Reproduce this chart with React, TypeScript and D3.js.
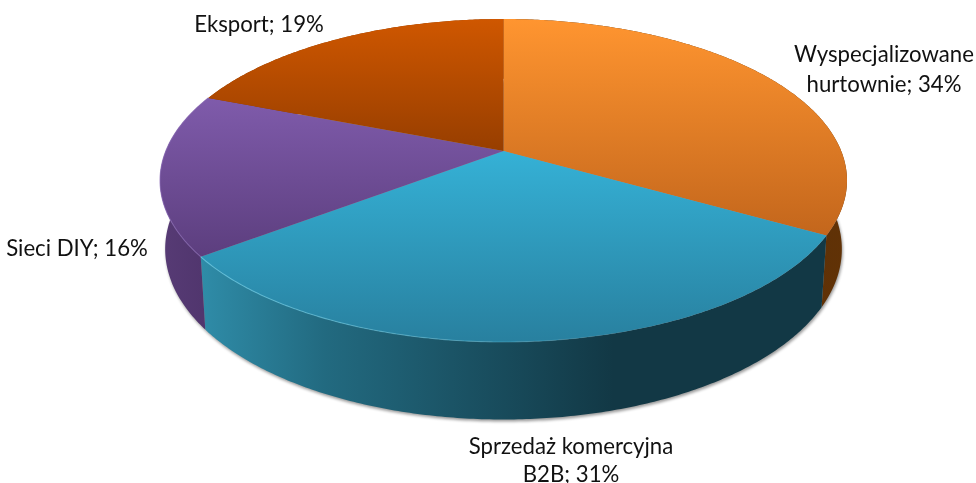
import React from 'react';
import * as d3 from 'd3';

const categories = ['Wyspecjalizowane hurtownie', 'Sprzedaż komercyjna B2B', 'Sieci DIY', 'Eksport'];
const values = [33.2, 31.5, 16.2, 19.1];
const labelLines = [
  ['Wyspecjalizowane', 'hurtownie; 34%'],
  ['Sprzedaż komercyjna', 'B2B; 31%'],
  ['Sieci DIY; 16%'],
  ['Eksport; 19%'],
];
const topColors = [
  ['#ff9530', '#c3661c'],
  ['#35b1d6', '#28809f'],
  ['#7f5bab', '#5c3e7e'],
  ['#cf5700', '#973e00'],
];
const wallColors = [
  ['#4a2a0c', '#613206'],
  ['#2f8ca8', '#123845'],
  ['#573b75', '#50356d'],
  ['#8a3a00', '#8a3a00'],
];
const edgeColors = ['#6fd0ea', '#8a6ab5'];

const width = 976;
const height = 483;
const cx = 503.5;
const cy = 151;
const tilt = 0.1827; // perspective of the disc
const radiusX = 337.7;
const radiusY = 156.1;
const depth = 67;
const bottomScaleX = 0.985;
const bottomScaleY = 1.055;

const labelX = [884, 571, 77, 259];
const labelY = [62, 454, 256, 31.5];
const lineGaps = [29.5, 27.5, 0, 0];
const fontSize = 22.2;

const project = (angle: number, bottom = false): [number, number] => {
  const u = Math.sin(angle);
  const v = Math.cos(angle);
  const w = 1 + tilt * v;
  const dx = (radiusX * u) / w;
  const dy = (-radiusY * v) / w;
  if (!bottom) return [cx + dx, cy + dy];
  return [cx + dx * bottomScaleX, cy + dy * bottomScaleY + depth];
};

const arcAngles = (a0: number, a1: number) => {
  const n = Math.max(2, Math.ceil((a1 - a0) / 0.01));
  return d3.range(n + 1).map((i) => a0 + ((a1 - a0) * i) / n);
};

const line = d3.line();

const App = () => {
  const arcs = d3.pie<number>().sort(null).startAngle(0).endAngle(2 * Math.PI)(values);
  const fullCircle = arcAngles(0, 2 * Math.PI);

  return (
    <svg
      width={width}
      height={height}
      style={{ position: 'absolute', left: 0, top: 0, display: 'block' }}
      fontFamily="Lato, 'Open Sans', sans-serif"
    >
      <defs>
        <filter id="shadow" x="-5%" y="-5%" width="110%" height="110%">
          <feGaussianBlur stdDeviation="1.8" />
        </filter>
        <filter id="soft" x="-2%" y="-2%" width="104%" height="104%">
          <feGaussianBlur stdDeviation="0.5" />
        </filter>
        <linearGradient id="edgeFade" gradientUnits="userSpaceOnUse" x1={200} x2={640} y1={0} y2={0}>
          <stop offset="0" stopColor="#fff" />
          <stop offset="0.6" stopColor="#fff" stopOpacity={0.6} />
          <stop offset="1" stopColor="#fff" stopOpacity={0} />
        </linearGradient>
        <mask id="edgeMask" maskUnits="userSpaceOnUse" x={0} y={0} width={width} height={height}>
          <rect width={width} height={height} fill="url(#edgeFade)" />
        </mask>
        {arcs.map((d, i) => {
          const ys = arcAngles(d.startAngle, d.endAngle).map((a) => project(a)[1]).concat(cy);
          return (
            <linearGradient
              key={i}
              id={`top${i}`}
              gradientUnits="userSpaceOnUse"
              x1={0}
              x2={0}
              y1={d3.min(ys)}
              y2={d3.max(ys)}
            >
              <stop offset="0" stopColor={topColors[i][0]} />
              <stop offset="1" stopColor={topColors[i][1]} />
            </linearGradient>
          );
        })}
        {arcs.map((d, i) => {
          const xs = arcAngles(d.startAngle, d.endAngle).map((a) => project(a)[0]);
          const x0 = d3.min(xs) as number;
          const x1 = d3.max(xs) as number;
          // the blue wall drops quickly, then reaches its darkest tone a bit past the middle
          const blue = i === 1;
          return (
            <linearGradient
              key={i}
              id={`wall${i}`}
              gradientUnits="userSpaceOnUse"
              x1={x0}
              x2={blue ? x0 + (x1 - x0) * 0.66 : x1}
              y1={0}
              y2={0}
            >
              <stop offset="0" stopColor={wallColors[i][0]} />
              {blue && <stop offset="0.3" stopColor="#226a80" />}
              <stop offset="1" stopColor={wallColors[i][1]} />
            </linearGradient>
          );
        })}
      </defs>

      {/* drop shadow under the disc */}
      <path
        d={line(fullCircle.map((a) => {
          const [x, y] = project(a, true);
          return [x + 1, y + 2] as [number, number];
        })) + 'Z'}
        fill="#000"
        opacity={0.4}
        filter="url(#shadow)"
      />

      {/* walls */}
      {arcs.map((d, i) => {
        const angles = arcAngles(d.startAngle, d.endAngle);
        const pts = angles.map((a) => project(a)).concat(angles.slice().reverse().map((a) => project(a, true)));
        return <path key={categories[i]} d={line(pts) + 'Z'} fill={`url(#wall${i})`} />;
      })}

      {/* top faces */}
      {arcs.map((d, i) => {
        const pts: [number, number][] = [[cx, cy], ...arcAngles(d.startAngle, d.endAngle).map((a) => project(a))];
        return <path key={categories[i]} d={line(pts) + 'Z'} fill={`url(#top${i})`} />;
      })}

      {/* bevel highlight along the front edge */}
      <g mask="url(#edgeMask)">
        {arcs.slice(1, 3).map((d, i) => (
          <path
            key={i}
            d={line(arcAngles(d.startAngle, d.endAngle).map((a) => project(a))) as string}
            fill="none"
            stroke={edgeColors[i]}
            strokeWidth={1.1}
            opacity={0.7}
            filter="url(#soft)"
          />
        ))}
      </g>

      {labelLines.map((lines, i) => (
        <text key={i} textAnchor="middle" fontSize={fontSize} fill="#111">
          {lines.map((t, j) => (
            <tspan key={t} x={labelX[i]} y={labelY[i] + j * lineGaps[i]}>
              {t}
            </tspan>
          ))}
        </text>
      ))}
    </svg>
  );
};

export default App;
